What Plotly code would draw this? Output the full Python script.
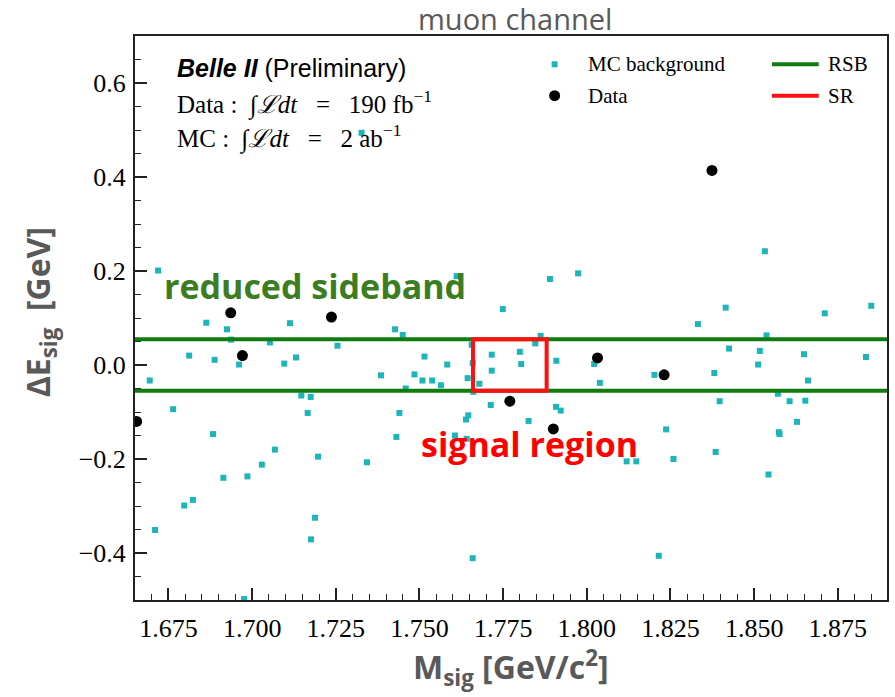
import plotly.graph_objects as go

# ---- data ----
mc_x = [1.6719, 1.6694, 1.6764, 1.6812, 1.6863, 1.6888, 1.6925, 1.6937, 1.6961, 1.7053,
        1.7096, 1.7113, 1.7131, 1.7147, 1.7175, 1.7166, 1.7255, 1.7385, 1.7611, 1.7890,
        1.7974, 1.7749, 1.7427, 1.7450, 1.7862, 1.7846, 1.7656, 1.7515, 1.7716, 1.7800,
        1.7804, 1.7909, 1.7583, 1.7659, 1.7485, 1.7509, 1.7538, 1.7564, 1.7644, 1.7716,
        1.7679, 1.7459, 1.7661, 1.8022, 1.8039, 1.7713, 1.7908, 1.7922, 1.7440, 1.7646,
        1.7639, 1.7826, 1.8532, 1.8415, 1.8332, 1.8711, 1.8850, 1.8537, 1.8425, 1.8517,
        1.8649, 1.8834, 1.8512, 1.8202, 1.8381, 1.8661, 1.8571, 1.8397, 1.8606, 1.8653,
        1.6883, 1.7068, 1.7029, 1.6986, 1.6914, 1.6823, 1.6797, 1.6710, 1.7197, 1.7188,
        1.7176, 1.6976, 1.7343, 1.7431, 1.7606, 1.7641, 1.7659, 1.8237, 1.8259, 1.8385,
        1.8628, 1.8574, 1.8576, 1.8543, 1.8119, 1.8148, 1.8215, 1.7327]
mc_y = [0.201, -0.033, -0.094, 0.020, 0.090, 0.011, 0.076, 0.054, 0.001, 0.048,
        0.003, 0.089, 0.016, -0.065, -0.068, -0.102, 0.041, -0.022, 0.189, 0.183,
        0.195, 0.119, 0.076, 0.064, 0.062, 0.046, 0.043, 0.018, 0.022, 0.028,
        0.002, 0.009, 0.001, 0.004, -0.020, -0.033, -0.033, -0.043, -0.028, -0.012,
        -0.040, -0.050, -0.057, 0.002, -0.038, -0.085, -0.089, -0.097, -0.102, -0.107,
        -0.116, -0.119, 0.242, 0.122, 0.087, 0.110, 0.126, 0.063, 0.035, 0.030,
        0.023, 0.017, 0.001, -0.021, -0.017, -0.033, -0.061, -0.077, -0.077, -0.076,
        -0.147, -0.180, -0.212, -0.237, -0.240, -0.287, -0.299, -0.351, -0.195, -0.325,
        -0.371, -0.498, -0.207, -0.153, -0.150, -0.157, -0.411, -0.137, -0.200, -0.185,
        -0.121, -0.143, -0.147, -0.233, -0.205, -0.205, -0.406, 0.494]

data_x = [1.6655, 1.6936, 1.6971, 1.7237, 1.7770, 1.7900, 1.8032, 1.8231, 1.8374]
data_y = [-0.120, 0.111, 0.020, 0.102, -0.077, -0.136, 0.015, -0.021, 0.414]

rsb_half = 0.055          # reduced sideband |dE| limit
sr_lo, sr_hi = 1.766, 1.788  # signal region mass window

x_ticks = [1.675, 1.700, 1.725, 1.750, 1.775, 1.800, 1.825, 1.850, 1.875]
y_ticks = [-0.4, -0.2, 0.0, 0.2, 0.4, 0.6]

# ---- styles ----
MC_COL = "#1cb5b9"
GREEN = "#107c10"
RED = "#ff1010"
GRAY = "#595959"
SERIF = "Liberation Serif"
SANS = "Open Sans"

# plot box in pixels (for paper conversions of decorations)
L, R, T, B = 135, 889.5, 36, 600
W, H = 895, 697
def px(x): return (x - L) / (R - L)
def py(y): return (B - y) / (B - T)

fig = go.Figure()
fig.add_trace(go.Scatter(x=mc_x, y=mc_y, mode="markers", name="MC background",
                         marker=dict(symbol="square", size=6, color=MC_COL, line=dict(width=0)),
                         showlegend=False))
fig.add_trace(go.Scatter(x=data_x, y=data_y, mode="markers", name="Data",
                         marker=dict(symbol="circle", size=11, color="black", line=dict(width=0)),
                         showlegend=False))

shapes = []
for yv in (rsb_half, -rsb_half):
    shapes.append(dict(type="line", xref="x domain", yref="y", x0=0, x1=1, y0=yv, y1=yv,
                       line=dict(color=GREEN, width=4), layer="above"))
shapes.append(dict(type="rect", xref="x", yref="y", x0=sr_lo, x1=sr_hi, y0=-rsb_half, y1=rsb_half,
                   line=dict(color=RED, width=4), layer="above"))

# legend decorations
leg_y1, leg_y2 = 64.3, 95.7
shapes.append(dict(type="rect", xref="paper", yref="paper", xsizemode="pixel", ysizemode="pixel",
                   xanchor=px(556), yanchor=py(leg_y1), x0=-3, x1=3, y0=-3, y1=3,
                   fillcolor=MC_COL, line=dict(width=0)))
shapes.append(dict(type="circle", xref="paper", yref="paper", xsizemode="pixel", ysizemode="pixel",
                   xanchor=px(556), yanchor=py(leg_y2), x0=-5.5, x1=5.5, y0=-5.5, y1=5.5,
                   fillcolor="black", line=dict(width=0)))
shapes.append(dict(type="line", xref="paper", yref="paper", x0=px(774), x1=px(821),
                   y0=py(leg_y1), y1=py(leg_y1), line=dict(color=GREEN, width=4)))
shapes.append(dict(type="line", xref="paper", yref="paper", x0=px(774), x1=px(821),
                   y0=py(leg_y2), y1=py(leg_y2), line=dict(color=RED, width=4)))

nb = "\u00a0"
ann = []
def txt(text, x, y, size, family, color="black", xanchor="left", yanchor="middle", angle=0):
    ann.append(dict(text=text, x=x, y=y, xref="paper", yref="paper", showarrow=False,
                    xanchor=xanchor, yanchor=yanchor, textangle=angle,
                    font=dict(size=size, family=family, color=color)))

txt("MC background", px(587), py(leg_y1), 21, SERIF)
txt("Data", px(587), py(leg_y2), 21, SERIF)
txt("RSB", px(828), py(leg_y1), 21, SERIF)
txt("SR", px(828), py(leg_y2), 21, SERIF)

txt("<b><i>Belle II</i></b>" + nb + "(Preliminary)", px(175), py(68.5), 25, "Liberation Sans")
txt("Data" + nb + ":" + nb + nb + "∫<i>ℒdt</i>" + nb * 3 + "=" + nb * 3 + "190" + nb + "fb<sup>−1</sup>",
    px(175), py(103), 25, SERIF)
txt("MC" + nb + ":" + nb + nb + "∫<i>ℒdt</i>" + nb * 3 + "=" + nb * 3 + "2" + nb + "ab<sup>−1</sup>",
    px(175), py(137), 25, SERIF)

txt("muon channel", px(516), py(18), 29, SANS, color=GRAY, xanchor="center")
txt("<b>ΔE<sub>sig</sub>" + nb + nb + "[GeV]</b>", px(40), py(312), 32, SANS, color=GRAY,
    xanchor="center", angle=-90)
txt("<b>M<sub>sig</sub>" + nb + "[GeV/c<sup>2</sup>]</b>", px(512), py(667), 32, SANS, color=GRAY,
    xanchor="center")

# in-plot labels (data coords)
ann.append(dict(text="<b>reduced sideband</b>", x=1.673, y=0.168, xref="x", yref="y", showarrow=False,
                xanchor="left", yanchor="middle", font=dict(size=34, family=SANS, color="#3b7d23")))
ann.append(dict(text="<b>signal region</b>", x=1.7498, y=-0.168, xref="x", yref="y", showarrow=False,
                xanchor="left", yanchor="middle", font=dict(size=34, family=SANS, color="#ff0000")))

axis_common = dict(showgrid=False, zeroline=False, showline=True, linecolor="#222", linewidth=2,
                   mirror=True, ticks="inside", ticklen=12, tickwidth=1.5, tickcolor="#222",
                   tickfont=dict(family=SERIF, size=26, color="black"))

fig.update_layout(
    width=W, height=H, margin=dict(l=L, r=W - R, t=T, b=H - B),
    paper_bgcolor="white", plot_bgcolor="white", showlegend=False,
    shapes=shapes, annotations=ann,
    xaxis=dict(range=[1.665, 1.8897], tickvals=x_ticks, tickformat=".3f", ticklabelstandoff=4,
               minor=dict(ticks="inside", ticklen=6, tickwidth=1.2, tickcolor="#222", dtick=0.005,
                          tick0=1.665),
               **axis_common),
    yaxis=dict(range=[-0.5, 0.7], tickvals=y_ticks, tickformat=".1f", ticklabelstandoff=2,
               minor=dict(ticks="inside", ticklen=6, tickwidth=1.2, tickcolor="#222", dtick=0.05,
                          tick0=-0.5),
               **axis_common),
)

fig.write_html("out.html")
